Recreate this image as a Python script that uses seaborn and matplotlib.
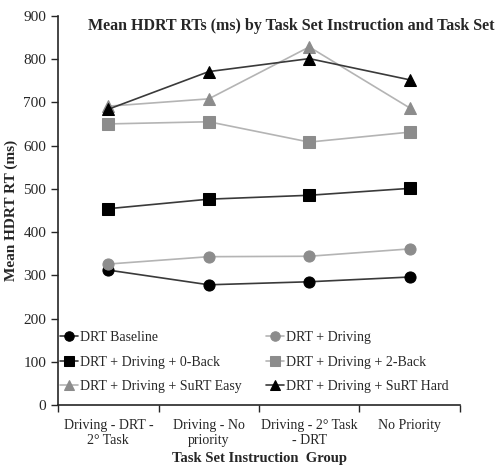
import pandas as pd
import matplotlib
matplotlib.use("Agg")
import matplotlib.pyplot as plt
import seaborn as sns

# -----------------------------
# DATA
# -----------------------------
groups = ["Driving - DRT -\n2° Task", "Driving - No\npriority", "Driving - 2° Task\n- DRT", "No Priority"]
series = ["DRT Baseline", "DRT + Driving", "DRT + Driving + 0-Back",
          "DRT + Driving + 2-Back", "DRT + Driving + SuRT Easy", "DRT + Driving + SuRT Hard"]
drt_baseline = [312, 278, 285, 296]
drt_driving = [326, 343, 344, 361]
back0 = [454, 476, 485, 501]
back2 = [650, 655, 608, 631]
surt_easy = [691, 708, 828, 687]
surt_hard = [684, 771, 801, 752]

rows = []
for name, vals in zip(series, [drt_baseline, drt_driving, back0, back2, surt_easy, surt_hard]):
    for i, v in enumerate(vals):
        rows.append({"group": i, "series": name, "rt": v})
df = pd.DataFrame(rows)

# -----------------------------
# STYLE
# -----------------------------
sns.set_style("ticks")
plt.rcParams['font.family'] = ['Liberation Serif', 'DejaVu Serif']

black = "#000000"
grey = "#8c8c8c"
palette = {series[0]: black, series[1]: grey, series[2]: black,
           series[3]: grey, series[4]: grey, series[5]: black}
markers = {series[0]: "o", series[1]: "o", series[2]: "s",
           series[3]: "s", series[4]: "^", series[5]: "^"}
line_colors = {series[0]: "#3a3a3a", series[1]: "#b4b4b4", series[2]: "#3a3a3a",
               series[3]: "#b4b4b4", series[4]: "#b4b4b4", series[5]: "#3a3a3a"}

fig = plt.figure(figsize=(5.01, 4.65), dpi=100)
ax = fig.add_axes([0.116, 0.129, 0.802, 0.837])

for name in series:
    sub = df[df["series"] == name]
    sns.lineplot(data=sub, x="group", y="rt", ax=ax, color=line_colors[name],
                 marker=markers[name], markersize=8, markerfacecolor=palette[name],
                 markeredgecolor=palette[name], linewidth=1.2, label=name)

ax.set_xlim(-0.5, 3.5)
ax.set_ylim(0, 900)
ax.set_yticks(range(0, 901, 100))
ax.set_xticks(range(4))
ax.set_xticklabels(groups, fontsize=10)
ax.tick_params(axis="x", which="major", length=0, pad=10)
ax.set_xticks([-0.5, 0.5, 1.5, 2.5, 3.5], minor=True)
ax.tick_params(axis="x", which="minor", length=5, width=1)
ax.tick_params(axis="y", labelsize=11, length=5, width=1)
for s in ["left", "bottom"]:
    ax.spines[s].set_linewidth(1.2)
sns.despine(ax=ax)

ax.set_xlabel("Task Set Instruction  Group", fontsize=10.5, fontweight="bold", labelpad=4)
ax.set_ylabel("Mean HDRT RT (ms)", fontsize=11, fontweight="bold")
ax.text(0.58, 0.995, "Mean HDRT RTs (ms) by Task Set Instruction and Task Set",
        transform=ax.transAxes, ha="center", va="top", fontsize=11.5, fontweight="bold")

handles, labels = ax.get_legend_handles_labels()
order = [0, 2, 4, 1, 3, 5]
ax.legend([handles[i] for i in order], [labels[i] for i in order], ncol=2,
          loc="lower left", bbox_to_anchor=(0.005, 0.03), borderaxespad=0, borderpad=0,
          frameon=False, fontsize=10,
          handlelength=1.3, handletextpad=0.15, columnspacing=1.7, labelspacing=0.85,
          markerscale=0.85)

plt.savefig("out.png", dpi=100)
